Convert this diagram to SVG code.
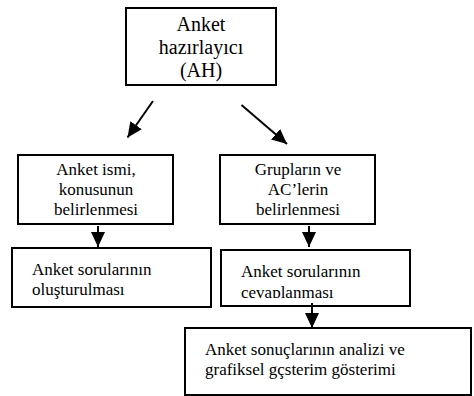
<svg xmlns="http://www.w3.org/2000/svg" width="474" height="396" viewBox="0 0 474 396">
  <style>
    .box { fill: #fff; stroke: #000; stroke-width: 2; }
    text { font-family: 'Liberation Serif', 'DejaVu Serif', 'Noto Serif', serif; fill: #000; }
    .big { font-size: 20px; }
    .mid { font-size: 17px; }
    .c { text-anchor: middle; }
    .conn { stroke: #000; stroke-width: 2; fill: none; marker-end: url(#ah); }
  </style>
  <defs>
    <marker id="ah" markerUnits="userSpaceOnUse" markerWidth="15" markerHeight="14" refX="15" refY="7" orient="auto">
      <path d="M0,0 L15,7 L0,14 z" fill="#000"/>
    </marker>
    <clipPath id="clipCev">
      <rect x="221" y="250" width="189" height="48"/>
    </clipPath>
  </defs>
  <rect width="474" height="396" fill="#fff"/>

  <g id="n-ah">
    <rect class="box" x="126" y="8" width="150" height="77"/>
    <text class="big c" x="201" y="31">Anket</text>
    <text class="big c" x="201" y="54">hazırlayıcı</text>
    <text class="big c" x="201" y="77">(AH)</text>
  </g>

  <g id="n-isim">
    <rect class="box" x="18" y="155" width="155" height="69"/>
    <text class="mid c" x="96" y="175">Anket ismi,</text>
    <text class="mid c" x="96" y="195">konusunun</text>
    <text class="mid c" x="96" y="215">belirlenmesi</text>
  </g>

  <g id="n-grup">
    <rect class="box" x="220" y="155" width="155" height="69"/>
    <text class="mid c" x="298" y="175">Grupların ve</text>
    <text class="mid c" x="298" y="195">AC’lerin</text>
    <text class="mid c" x="298" y="215">belirlenmesi</text>
  </g>

  <g id="n-olus">
    <rect class="box" x="12" y="248" width="199" height="59"/>
    <text class="mid" x="32" y="275">Anket sorularının</text>
    <text class="mid" x="32" y="295">oluşturulması</text>
  </g>

  <g id="n-cev">
    <rect class="box" x="221" y="250" width="189" height="56"/>
    <g clip-path="url(#clipCev)">
      <text class="mid" x="241" y="277">Anket sorularının</text>
      <text class="mid" x="241" y="297.5">cevaplanması</text>
    </g>
  </g>

  <g id="n-analiz">
    <rect class="box" x="185" y="328" width="286" height="67"/>
    <text class="mid" x="205" y="355">Anket sonuçlarının analizi ve</text>
    <text class="mid" x="205" y="375">grafiksel gçsterim gösterimi</text>
  </g>

  <g id="connectors">
    <line class="conn" x1="153" y1="101" x2="127.5" y2="137.5"/>
    <line class="conn" x1="241.5" y1="105" x2="287" y2="144"/>
    <line class="conn" x1="98" y1="226" x2="98" y2="247"/>
    <line class="conn" x1="309" y1="226" x2="309" y2="247"/>
    <line class="conn" x1="312" y1="303" x2="312" y2="328"/>
  </g>
</svg>
